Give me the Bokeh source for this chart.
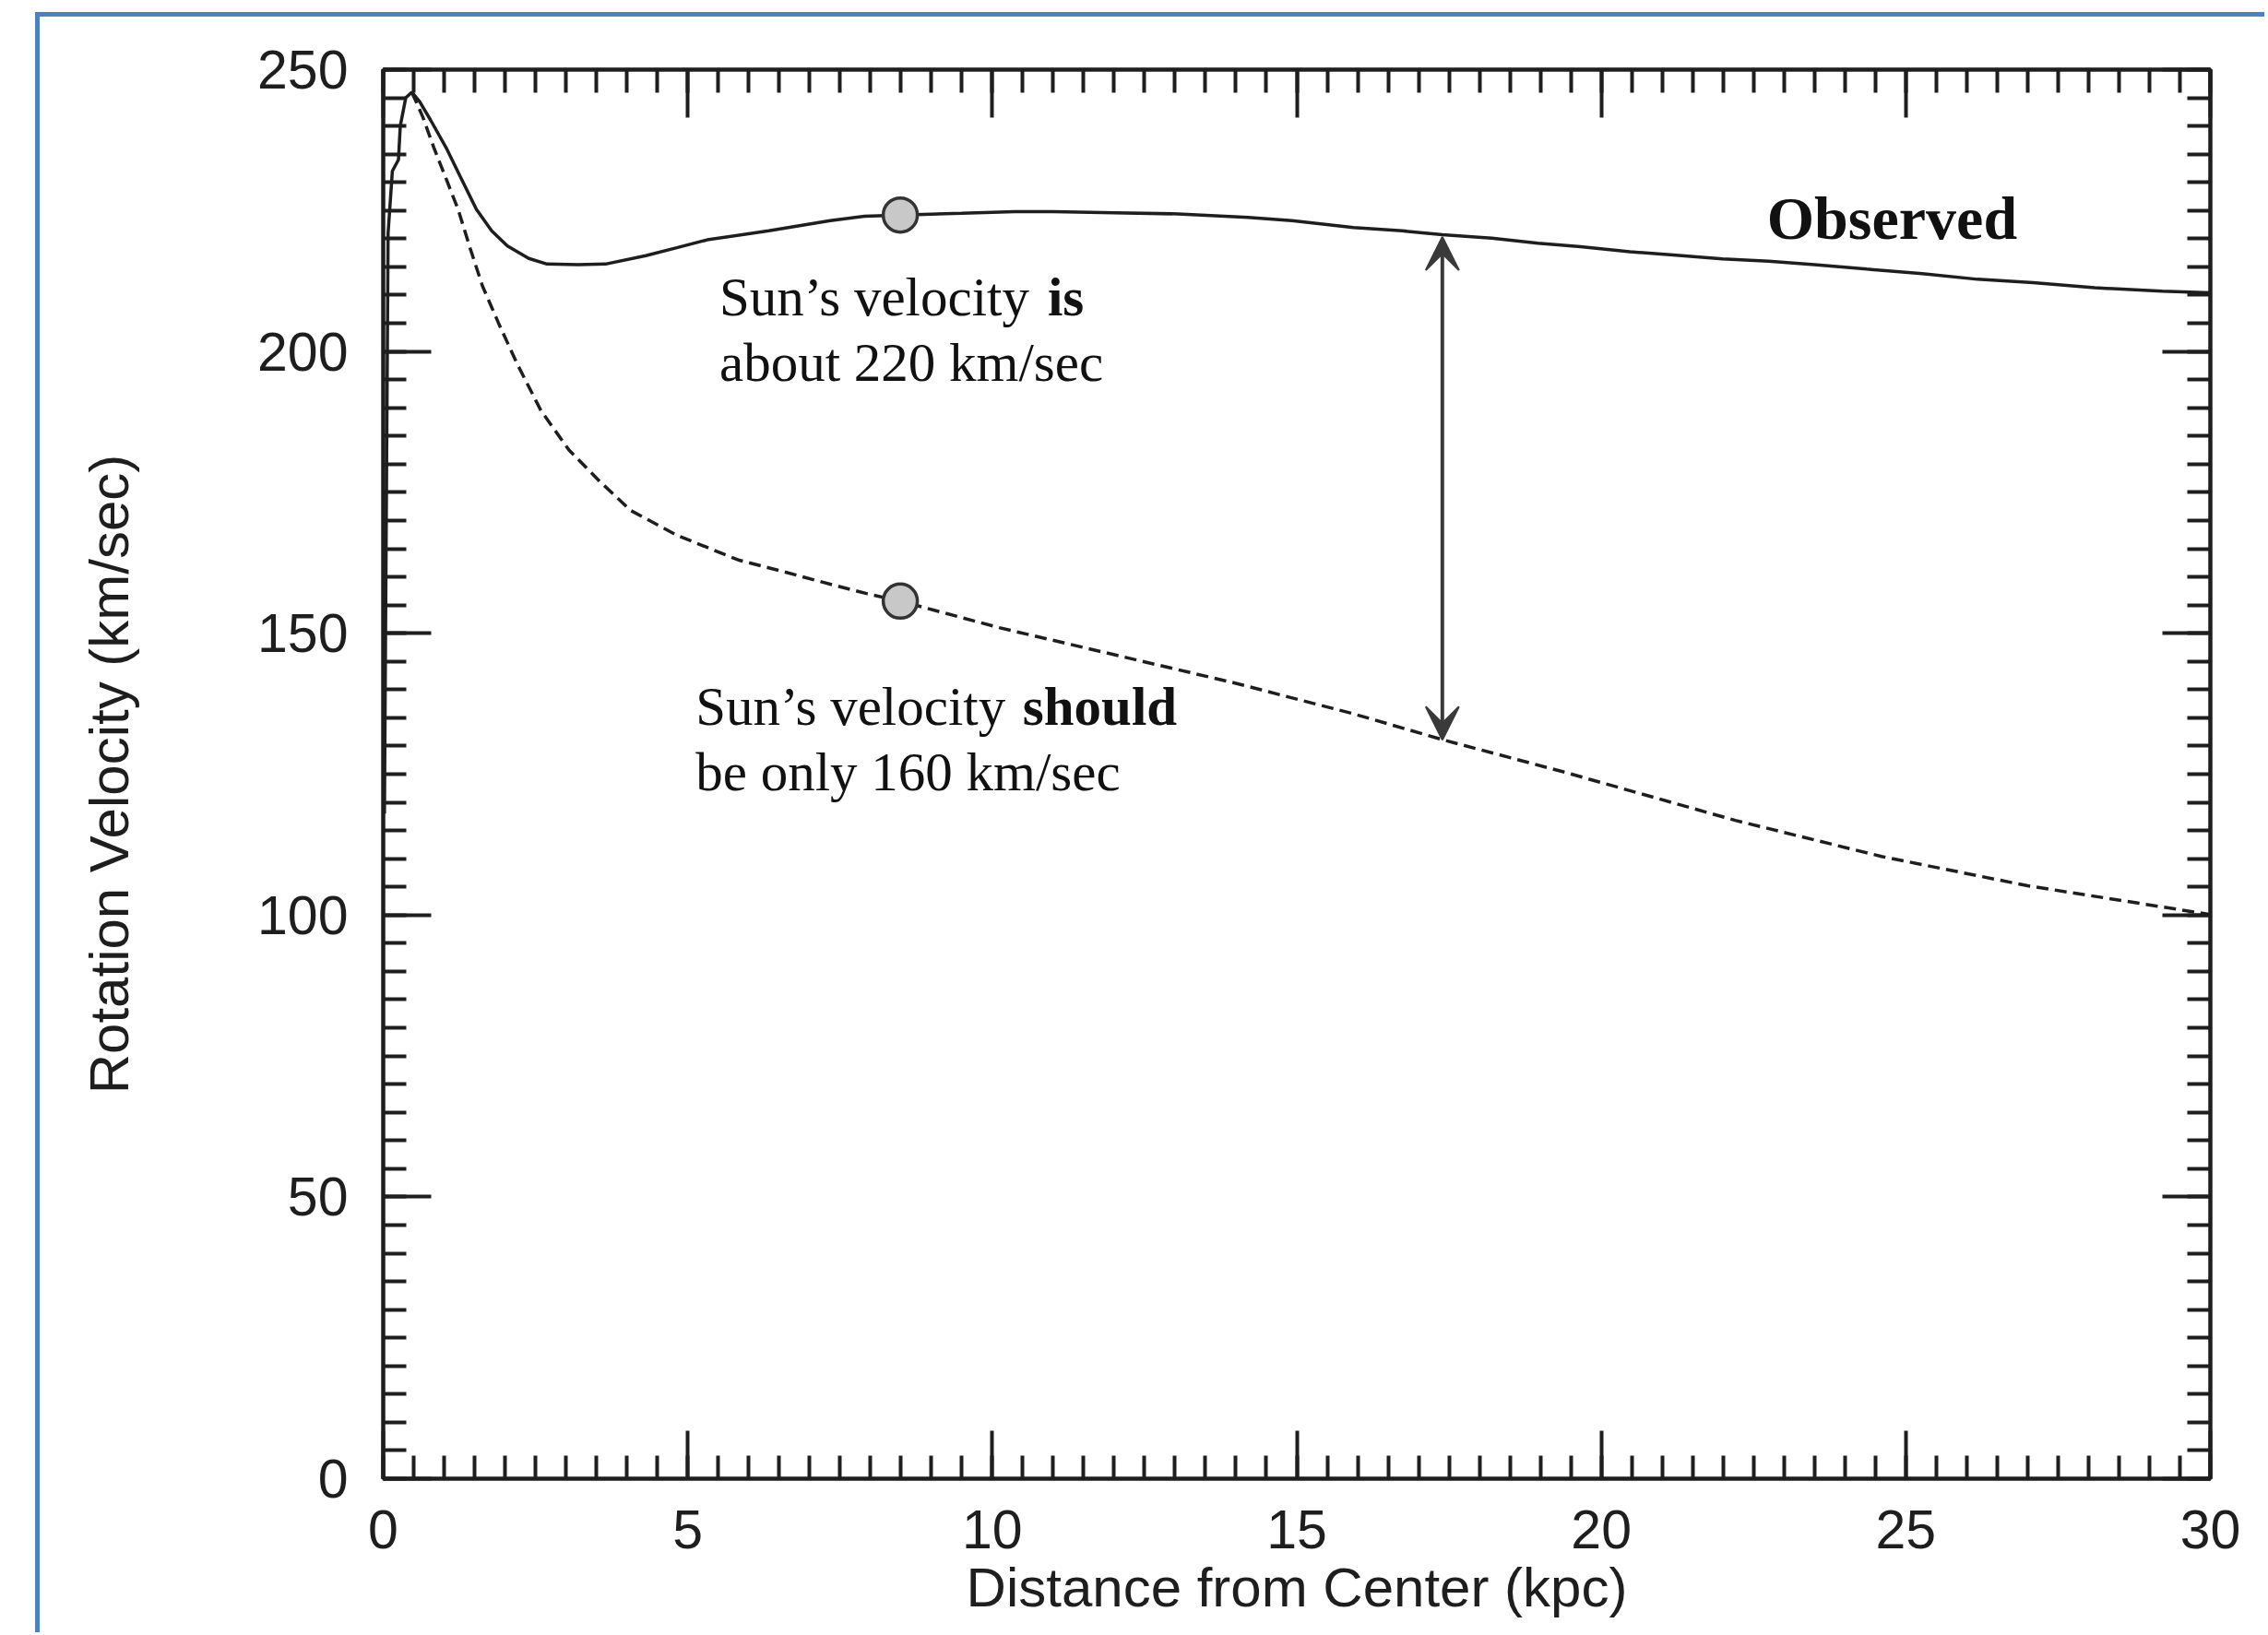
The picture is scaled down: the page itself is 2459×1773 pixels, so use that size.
from bokeh.plotting import figure
from bokeh.models import (Range1d, LinearAxis, SingleIntervalTicker, CustomJSTickFormatter,
                          Label, Arrow, VeeHead, InlineStyleSheet)
from bokeh.embed import file_html
from bokeh.resources import INLINE

# ---- data ----
obs_x = [0.02, 0.05, 0.08, 0.15, 0.25, 0.28, 0.37, 0.47, 0.6, 0.78, 1.03, 1.28, 1.53, 1.78,
         2.04, 2.39, 2.69, 3.2, 3.65, 4.31, 4.82, 5.32, 6.33, 7.34, 7.9, 8.49, 9.5, 10.37,
         11.0, 12.0, 13.05, 14.2, 14.92, 15.93, 16.73, 17.39, 18.2, 18.96, 19.66, 20.47,
         21.18, 21.99, 22.75, 23.5, 24.36, 25.27, 26.18, 27.09, 28.1, 29.21, 30.0]
obs_y = [118, 170, 221, 232, 234, 240, 245, 246, 244.3, 241, 236.2, 230.7, 225.2, 221.4,
         218.7, 216.5, 215.5, 215.4, 215.5, 217.0, 218.4, 219.8, 221.4, 223.2, 224.0, 224.2,
         224.5, 224.8, 224.8, 224.6, 224.4, 223.8, 223.2, 222.0, 221.4, 220.7, 220.1, 219.2,
         218.6, 217.7, 217.1, 216.4, 216.0, 215.4, 214.6, 213.8, 212.8, 212.2, 211.3, 210.7,
         210.4]

exp_x = [0.47, 0.65, 0.83, 1.03, 1.23, 1.43, 1.63, 1.89, 2.19, 2.59, 3.05, 3.55, 4.06, 4.82,
         5.83, 6.58, 7.34, 7.95, 8.49, 10.11, 12.04, 13.97, 15.9, 17.4, 19.38, 22.2, 24.6,
         27.0, 30.0]
exp_y = [246, 241.6, 236.2, 230.7, 225.2, 218.2, 211.6, 205.1, 198.0, 189.5, 182.5, 177.0,
         171.8, 167.4, 163.0, 160.9, 158.7, 157.0, 155.7, 151.0, 146.1, 141.2, 135.8, 131.1,
         125.4, 116.8, 110.4, 105.2, 100.1]

sun_x = [8.49, 8.49]
sun_y = [224.2, 155.7]

gap_x = 17.39
gap_top = 220.3
gap_bottom = 131.1

x_label = "Distance from Center (kpc)"
y_label = "Rotation Velocity (km/sec)"

INK = "#1e1e1e"
SANS = "Liberation Sans"
SERIF = "Liberation Serif"

border_css = InlineStyleSheet(css="""
:host { position: relative; }
:host::after {
  content: "";
  position: absolute;
  left: 38px; top: 13px; right: 0px; bottom: 0px;
  border-top: 5px solid #4f81bd;
  border-left: 5px solid #4f81bd;
  pointer-events: none;
  z-index: 10;
}
""")

p = figure(width=2455, height=1770, output_backend="svg", toolbar_location=None,
           x_range=Range1d(0, 30), y_range=Range1d(0, 250),
           min_border_left=415, min_border_top=75, min_border_right=59, min_border_bottom=167)
p.stylesheets = [border_css]
p.background_fill_color = "white"
p.border_fill_color = "white"
p.outline_line_color = INK
p.outline_line_width = 4
p.xgrid.visible = False
p.ygrid.visible = False

xt = SingleIntervalTicker(interval=5, num_minor_ticks=10)
yt = SingleIntervalTicker(interval=50, num_minor_ticks=10)


def style_axis(ax, labels=True):
    ax.axis_line_color = INK
    ax.axis_line_width = 4
    ax.major_tick_line_color = INK
    ax.minor_tick_line_color = INK
    ax.major_tick_line_width = 4
    ax.minor_tick_line_width = 4
    ax.major_tick_in = 52
    ax.major_tick_out = 0
    ax.minor_tick_in = 25
    ax.minor_tick_out = 0
    ax.major_label_text_font = SANS
    ax.major_label_text_font_size = "59px"
    ax.major_label_text_color = INK
    ax.axis_label_text_font = SANS
    ax.axis_label_text_font_size = "60px"
    ax.axis_label_text_font_style = "normal"
    ax.axis_label_text_color = INK
    if not labels:
        ax.formatter = CustomJSTickFormatter(code="return ''")


p.xaxis.ticker = xt
p.yaxis.ticker = yt
style_axis(p.xaxis[0])
style_axis(p.yaxis[0])
p.xaxis.axis_label = x_label
p.yaxis.axis_label = y_label
p.xaxis.major_label_standoff = 34
p.xaxis.axis_label_standoff = 6
p.yaxis.major_label_standoff = 38
p.yaxis.axis_label_standoff = 124

top_ax = LinearAxis(ticker=SingleIntervalTicker(interval=5, num_minor_ticks=10))
right_ax = LinearAxis(ticker=SingleIntervalTicker(interval=50, num_minor_ticks=10))
style_axis(top_ax, labels=False)
style_axis(right_ax, labels=False)
p.add_layout(top_ax, "above")
p.add_layout(right_ax, "right")

# curves
p.line(obs_x, obs_y, line_color=INK, line_width=3.5)
p.line(exp_x, exp_y, line_color=INK, line_width=3.5, line_dash="13 7")

# double arrow showing the gap
p.add_layout(Arrow(x_start=gap_x, y_start=gap_bottom, x_end=gap_x, y_end=gap_top,
                   line_color="#3a3a3a", line_width=4,
                   start=VeeHead(size=36, fill_color="#3a3a3a", line_color="#3a3a3a", line_width=2),
                   end=VeeHead(size=36, fill_color="#3a3a3a", line_color="#3a3a3a", line_width=2)))

# Sun markers
p.scatter(sun_x, sun_y, size=37, fill_color="#c8c8c8", line_color="#333333", line_width=3.5)

# annotations
def lab(x, y, text, size="59px", style="normal"):
    p.add_layout(Label(x=x, y=y, text=text, text_font=SERIF, text_font_size=size,
                       text_font_style=style, text_color="#111111",
                       text_align="left", text_baseline="alphabetic"))

lab(5.52, 209.7, "Sun\u2019s velocity")
lab(10.91, 209.7, "is", style="bold")
lab(5.52, 198.0, "about 220 km/sec")
lab(5.13, 137.1, "Sun\u2019s velocity")
lab(10.50, 137.1, "should", style="bold")
lab(5.13, 125.4, "be only 160 km/sec")
lab(22.72, 223.6, "Observed", size="66px", style="bold")

open("out.html", "w").write(file_html(p, INLINE))
